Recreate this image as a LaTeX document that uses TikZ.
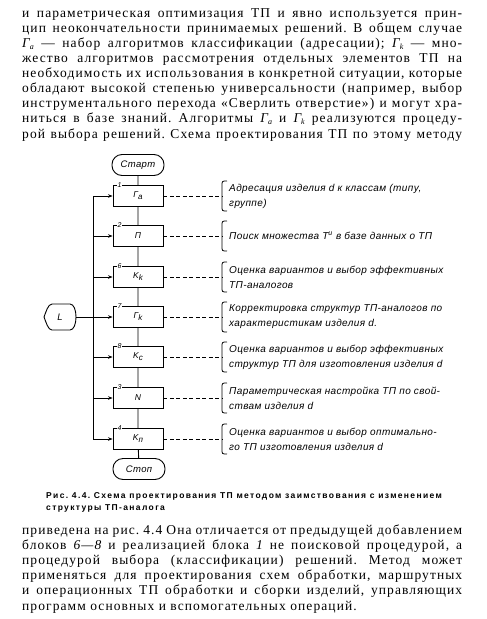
\documentclass[tikz,border=0pt]{standalone}
\usepackage{fontspec}
\setmainfont{Liberation Serif}
\newfontfamily\bodyfont{Liberation Serif}[LetterSpace=8.0]
\newfontfamily\drawfont{Liberation Sans}[LetterSpace=4.0]
\newfontfamily\capfont{Liberation Sans}[LetterSpace=16.0]
\usetikzlibrary{arrows.meta}
\newcommand\jline[1]{\makebox[440pt][s]{#1}}
\newcommand\gsub[2]{{\itshape #1\raisebox{-2pt}{\fontsize{8}{8}\selectfont #2}}}
\tikzset{bracepic/.pic={\draw[line width=0.8pt] (5,-15) .. controls (0,-15) .. (0,-10) -- (0,10) .. controls (0,15) .. (5,15);}}
\frenchspacing
\begin{document}
\frenchspacing
\begin{tikzpicture}[x=1pt,y=-1pt,
 blk/.style={draw, line width=0.9pt, minimum width=50pt, minimum height=21pt, inner sep=0pt, font=\drawfont\itshape\fontsize{8.5}{8.5}\selectfont},
 term/.style={blk, rounded corners=10pt, minimum width=52pt, minimum height=21pt, font=\drawfont\itshape\fontsize{9.5}{9.5}\selectfont},
 num/.style={font=\drawfont\itshape\fontsize{7}{7}\selectfont, fill=white, inner sep=0.6pt},
 note/.style={anchor=west, align=left, inner sep=0pt, font=\drawfont\itshape\fontsize{10}{15}\selectfont},
 link/.style={line width=0.9pt},
 arr/.style={line width=0.9pt, -{Stealth[length=4.5pt,width=3.5pt]}},
 dsh/.style={line width=0.8pt, dash pattern=on 4pt off 2.5pt},
 txt/.style={anchor=base west, inner sep=0pt, font=\bodyfont\frenchspacing\fontsize{13.5}{15}\selectfont},
 captxt/.style={anchor=base west, inner sep=0pt, font=\capfont\bfseries\fontsize{8.5}{10}\selectfont}
]
\useasboundingbox (0,0) rectangle (487,619);
% top text
\node[txt] (t1) at (22,17) {\jline{и параметрическая оптимизация ТП и явно используется прин-}};
\node[txt] (t2) at (22,32.1) {\jline{цип неокончательности принимаемых решений. В общем случае}};
\node[txt] (t3) at (22,47.2) {\jline{\gsub{Γ}{a} — набор алгоритмов классификации (адресации); \gsub{Γ}{k} — мно-}};
\node[txt] (t4) at (22,62.4) {\jline{жество алгоритмов рассмотрения отдельных элементов ТП на}};
\node[txt] (t5) at (22,77.5) {\jline{необходимость их использования в конкретной ситуации, которые}};
\node[txt] (t6) at (22,92.6) {\jline{обладают высокой степенью универсальности (например, выбор}};
\node[txt] (t7) at (22,107.7) {\jline{инструментального перехода «Сверлить отверстие») и могут хра-}};
\node[txt] (t8) at (22,122.9) {\jline{ниться в базе знаний. Алгоритмы \gsub{Γ}{a} и \gsub{Γ}{k} реализуются процеду-}};
\node[txt] (t9) at (22,138) {\jline{рой выбора решений. Схема проектирования ТП по этому методу}};
% flowchart
\node[term] (start) at (138,165) {Старт};
\node[blk] (b1) at (138,196) {\gsub{Γ}{a}};
\node[blk] (b2) at (138,236) {П};
\node[blk] (b3) at (138,277) {\gsub{K}{k}};
\node[blk] (b4) at (138,317) {\gsub{Γ}{k}};
\node[blk] (b5) at (138,357) {\gsub{K}{c}};
\node[blk] (b6) at (138,398) {N};
\node[blk] (b7) at (138,439) {\gsub{K}{п}};
\node[term] (stop) at (139,469) {Стоп};
\foreach \b/\n in {b1/1,b2/2,b3/6,b4/7,b5/8,b6/3,b7/4}
  \node[num] (n\b) at ([xshift=7pt]\b.north west) {\n};
\draw[link] (start) -- (b1) -- (b2) -- (b3) -- (b4) -- (b5) -- (b6) -- (b7) -- (stop);
% left connector
\node[font=\drawfont\itshape\fontsize{9.5}{9.5}\selectfont, inner sep=0pt] (lc) at (60,317) {L};
\draw[link] (70,304) -- (52,304) .. controls (48,304) and (46,312) .. (44,317) .. controls (46,322) and (48,330) .. (52,330) -- (70,330) .. controls (78,330) and (78,304) .. (70,304) -- cycle;
\coordinate (lce) at (76,317);
\coordinate (jt) at (93,196);
\coordinate (jm) at (93,317);
\coordinate (jb) at (93,439);
\draw[link] (lce) -- (jm);
\draw[link] (jt) -- (jb);
\foreach \b in {b1,b2,b3,b4,b5,b6,b7}
  \draw[arr] (jt |- \b.west) -- (\b.west);
% dashed links and braces
\foreach \b/\y in {b1/196,b2/236,b3/277,b4/317,b5/357,b6/398,b7/439}{
  \coordinate (r\b) at (222,\y);
  \draw[dsh] (\b.east) -- (r\b);
  \pic at (r\b) {bracepic};
}
\node[note] (m1) at (229,196) {Адресация изделия d к классам (типу,\\группе)};
\node[note] (m2) at (229,236) {Поиск множества T\textsuperscript{и} в базе данных о ТП};
\node[note] (m3) at (229,277) {Оценка вариантов и выбор эффективных\\ТП-аналогов};
\node[note] (m4) at (229,317) {Корректировка структур ТП-аналогов по\\характеристикам изделия d.};
\node[note] (m5) at (229,357) {Оценка вариантов и выбор эффективных\\структур ТП для изготовления изделия d};
\node[note] (m6) at (229,398) {Параметрическая настройка ТП по свой-\\ствам изделия d};
\node[note] (m7) at (229,439) {Оценка вариантов и выбор оптимально-\\го ТП изготовления изделия d};
% caption
\node[captxt] (c1) at (46,498) {Рис. 4.4. Схема проектирования ТП методом заимствования с изменением};
\node[captxt] (c2) at (46,510) {структуры ТП-аналога};
% bottom text
\node[txt] (u1) at (22,534) {\jline{приведена на рис. 4.4 Она отличается от предыдущей добавлением}};
\node[txt] (u2) at (22,549.2) {\jline{блоков {\itshape 6—8} и реализацией блока {\itshape 1} не поисковой процедурой, а}};
\node[txt] (u3) at (22,564.4) {\jline{процедурой выбора (классификации) решений. Метод может}};
\node[txt] (u4) at (22,579.6) {\jline{применяться для проектирования схем обработки, маршрутных}};
\node[txt] (u5) at (22,594.8) {\jline{и операционных ТП обработки и сборки изделий, управляющих}};
\node[txt] (u6) at (22,610) {программ основных и вспомогательных операций.};
\end{tikzpicture}
\end{document}
